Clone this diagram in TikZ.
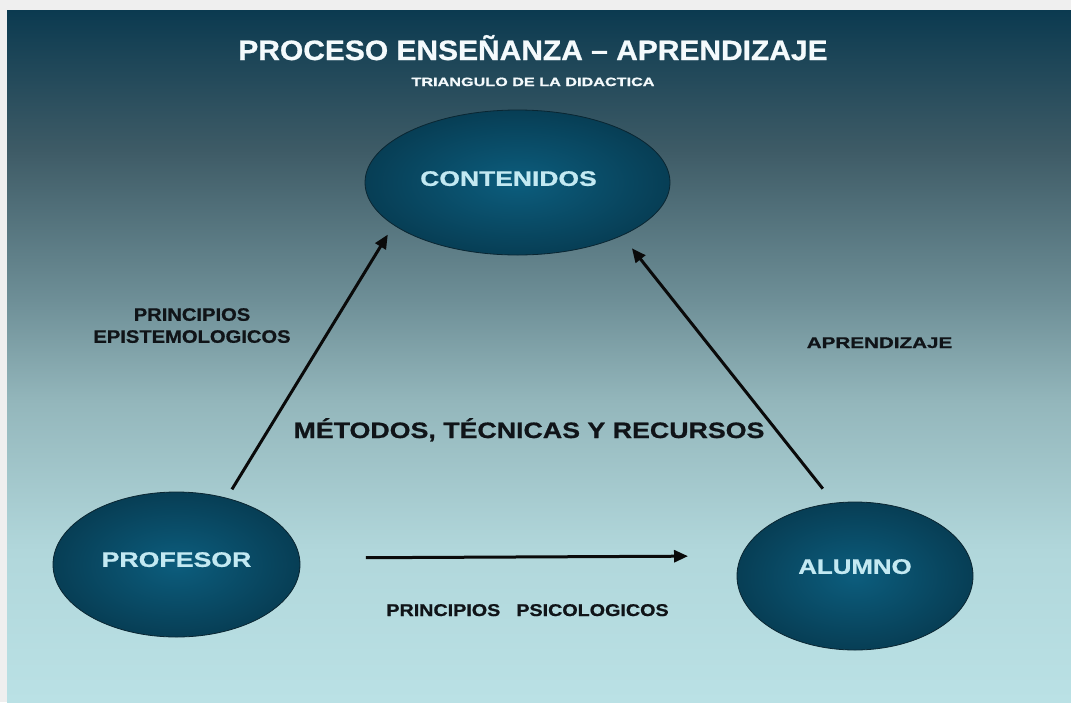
\documentclass[tikz,border=0pt]{standalone}
\usepackage{fontspec}
\setmainfont{Liberation Sans}[BoldFeatures={FakeBold=0.8}]
\usetikzlibrary{shapes.geometric,arrows.meta}
\definecolor{frameC}{HTML}{EFEFEF}
\definecolor{bgA}{HTML}{0B3A50}
\definecolor{bgB}{HTML}{3E5B66}
\definecolor{bgC}{HTML}{6E8F97}
\definecolor{bgD}{HTML}{93B6BB}
\definecolor{bgE}{HTML}{B1D7DB}
\definecolor{bgF}{HTML}{BAE1E5}
\definecolor{discIn}{HTML}{0C5D7D}
\definecolor{discOut}{HTML}{073E55}
\definecolor{discEdge}{HTML}{0A2632}
\definecolor{discText}{HTML}{C3E9F2}
\definecolor{titleC}{HTML}{F4FAFC}
\definecolor{labC}{HTML}{101418}
\definecolor{arrowC}{HTML}{0A0A0A}
\newcommand{\sx}[2]{\scalebox{#1}[1]{#2}}
\newcommand{\lift}[1]{\rule[-#1]{0pt}{#1}}
\begin{document}
\begin{tikzpicture}[x=1pt,y=-1pt,
  disc/.style={ellipse, draw=discEdge, line width=0.8pt, inner color=discIn, outer color=discOut,
    inner sep=0pt, text=discText, font=\bfseries\fontsize{21}{24}\selectfont},
  lab/.style={text=labC, inner sep=0pt, anchor=base},
  ttl/.style={text=titleC, inner sep=0pt, anchor=base},
  arr/.style={draw=arrowC, line width=3pt, -{Triangle[length=14pt,width=12pt]}}]
\useasboundingbox (0,0) rectangle (1071,702);
% frame and slide background
\fill[frameC] (0,0) rectangle (1071,702);
\shade[top color=bgA, bottom color=bgB] (7,10) rectangle (1071,150.5);
\shade[top color=bgB, bottom color=bgC] (7,150) rectangle (1071,300.5);
\shade[top color=bgC, bottom color=bgD] (7,300) rectangle (1071,400.5);
\shade[top color=bgD, bottom color=bgE] (7,400) rectangle (1071,550.5);
\shade[top color=bgE, bottom color=bgF] (7,550) rectangle (1071,702);
% titles
\node[ttl, font=\bfseries\fontsize{28}{30}\selectfont] (title) at (533,60) {\sx{1.07}{PROCESO ENSEÑANZA – APRENDIZAJE}};
\node[ttl, font=\bfseries\fontsize{12}{14}\selectfont] (subtitle) at (533,86) {\sx{1.35}{TRIANGULO DE LA DIDACTICA}};
% ellipses
\node[disc, minimum width=305pt, minimum height=145pt] (cont) at (517.5,182.5) {\sx{1.26}{CONTENIDOS}\lift{8pt}\kern18pt};
\node[disc, minimum width=247pt, minimum height=145pt] (prof) at (176.5,564.5) {\sx{1.27}{PROFESOR}\lift{10pt}};
\node[disc, minimum width=236pt, minimum height=148pt] (alum) at (855,576) {\sx{1.23}{ALUMNO}\lift{19pt}};
% connectors
\draw[arr, shorten <=10pt, shorten >=11pt] (prof.53.3) -- (cont.199.7);
\draw[arr, shorten <=18pt, shorten >=16pt] (alum.106.7) -- (cont.333.5);
\draw[arr, shorten <=66pt, shorten >=53pt] (prof.3.5) -- (alum.170.5);
% labels
\node[text=labC, inner sep=0pt, anchor=north, align=center, font=\bfseries\fontsize{18}{22}\selectfont] (epis) at (192,308)
  {\sx{1.12}{PRINCIPIOS}\\\sx{1.12}{EPISTEMOLOGICOS}};
\node[lab, font=\bfseries\fontsize{15.5}{18}\selectfont] (apre) at (879.5,348) {\sx{1.33}{APRENDIZAJE}};
\node[lab, font=\bfseries\fontsize{22.3}{26}\selectfont] (metodos) at (529,438) {\sx{1.2}{MÉTODOS, TÉCNICAS Y RECURSOS}};
\node[lab, font=\bfseries\fontsize{17}{20}\selectfont] (psico) at (527.5,616) {\sx{1.16}{PRINCIPIOS}\hspace{16pt}\sx{1.16}{PSICOLOGICOS}};
\end{tikzpicture}
\end{document}
